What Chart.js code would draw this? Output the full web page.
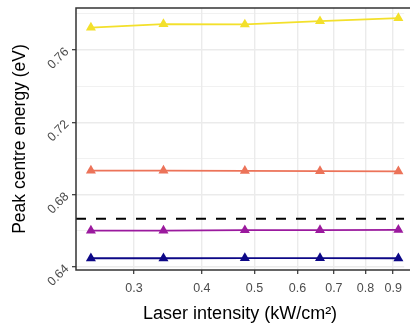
<!DOCTYPE html>
<html>
<head>
<meta charset="utf-8">
<script src="https://cdn.jsdelivr.net/npm/chart.js@4"></script>
<style>
  html, body { margin: 0; padding: 0; background: #ffffff; overflow: hidden; }
  #wrap { width: 410px; height: 325px; position: relative; }
</style>
</head>
<body>
<div id="wrap"><canvas id="c" width="410" height="325"></canvas></div>
<script>
// ---- data ----
const intensity = [0.25, 0.34, 0.48, 0.66, 0.92];           // kW/cm^2
const seriesYellow = [0.7724, 0.7743, 0.7741, 0.7759, 0.7776];
const seriesSalmon = [0.6933, 0.6933, 0.6931, 0.6930, 0.6929];
const seriesPurple = [0.6601, 0.6601, 0.6603, 0.6604, 0.6605];
const seriesNavy   = [0.6448, 0.6448, 0.6449, 0.6449, 0.6448];
const referenceEnergy = 0.6667;                                // dashed line
const xTicks = [0.3, 0.4, 0.5, 0.6, 0.7, 0.8, 0.9];
const yMajorTicks = [0.64, 0.68, 0.72, 0.76];
const yMinorTicks = [0.66, 0.70, 0.74, 0.78];
const xRange = [0.2347, 0.943];
const yRange = [0.6383, 0.7832];

const colors = { yellow: '#F3E02B', salmon: '#EC7359', purple: '#9B1A9E', navy: '#0D0887' };

function pts(ys) { return intensity.map((x, i) => ({ x: x, y: ys[i] })); }
function series(ys, color) {
  return {
    data: pts(ys), showLine: true, borderColor: color, backgroundColor: color,
    borderWidth: 1.8, pointStyle: 'triangle', pointRadius: 5.8, pointBorderWidth: 0,
    pointHoverRadius: 5.8
  };
}

const isMajorY = v => yMajorTicks.some(t => Math.abs(t - v) < 1e-9);

const frame = {
  id: 'frame',
  afterDraw(chart) {
    const a = chart.chartArea, ctx = chart.ctx;
    ctx.save();
    ctx.strokeStyle = '#333333';
    ctx.lineWidth = 1.5;
    ctx.strokeRect(a.left, a.top, a.right - a.left + 10, a.bottom - a.top);
    ctx.restore();
  }
};

new Chart(document.getElementById('c'), {
  type: 'scatter',
  data: {
    datasets: [
      {
        data: [{ x: xRange[0], y: referenceEnergy }, { x: xRange[1], y: referenceEnergy }],
        showLine: true, borderColor: '#000000', borderWidth: 2, borderDash: [10, 10],
        pointRadius: 0, pointHoverRadius: 0
      },
      series(seriesNavy, colors.navy),
      series(seriesPurple, colors.purple),
      series(seriesSalmon, colors.salmon),
      series(seriesYellow, colors.yellow)
    ]
  },
  options: {
    responsive: false,
    animation: false,
    events: [],
    layout: { padding: { top: 8, right: 0, left: 0, bottom: 0 } },
    plugins: { legend: { display: false }, tooltip: { enabled: false } },
    scales: {
      x: {
        type: 'logarithmic',
        min: xRange[0], max: xRange[1],
        afterBuildTicks: s => { s.ticks = xTicks.map(v => ({ value: v })); },
        afterFit: s => { s.height = 55; s.paddingLeft = 0; s.paddingRight = 0; },
        border: { display: false },
        grid: { color: '#EBEBEB', lineWidth: 1.4, tickColor: '#333333', tickLength: 4, tickWidth: 1.2 },
        ticks: {
          autoSkip: false, maxRotation: 0, minRotation: 0, padding: 7,
          color: '#4D4D4D', font: { family: 'Liberation Sans, Arial, sans-serif', size: 12.5 },
          callback: v => Number(v).toFixed(1)
        },
        title: {
          display: true, text: 'Laser intensity (kW/cm²)', color: '#000000',
          font: { family: 'Liberation Sans, Arial, sans-serif', size: 18 },
          padding: { top: 0, bottom: 0 }
        }
      },
      y: {
        type: 'linear',
        min: yRange[0], max: yRange[1],
        afterBuildTicks: s => {
          s.ticks = yMajorTicks.concat(yMinorTicks).sort((a, b) => a - b).map(v => ({ value: v }));
        },
        afterFit: s => { s.width = 76; s.paddingTop = 0; s.paddingBottom = 0; },
        border: { display: false },
        grid: {
          color: '#EBEBEB',
          lineWidth: c => (c.tick && isMajorY(c.tick.value)) ? 1.4 : 0.7,
          tickColor: c => (c.tick && isMajorY(c.tick.value)) ? '#333333' : 'rgba(0,0,0,0)',
          tickLength: 4, tickWidth: 1.2
        },
        ticks: {
          autoSkip: false, minRotation: 45, maxRotation: 45, padding: 5,
          color: '#4D4D4D', font: { family: 'Liberation Sans, Arial, sans-serif', size: 12.5 },
          callback: v => isMajorY(v) ? Number(v).toFixed(2) : ''
        },
        title: {
          display: true, text: 'Peak centre energy (eV)', color: '#000000',
          font: { family: 'Liberation Sans, Arial, sans-serif', size: 17.5 },
          padding: { top: 9.5, bottom: 0 }
        }
      }
    }
  },
  plugins: [frame]
});
</script>
</body>
</html>
